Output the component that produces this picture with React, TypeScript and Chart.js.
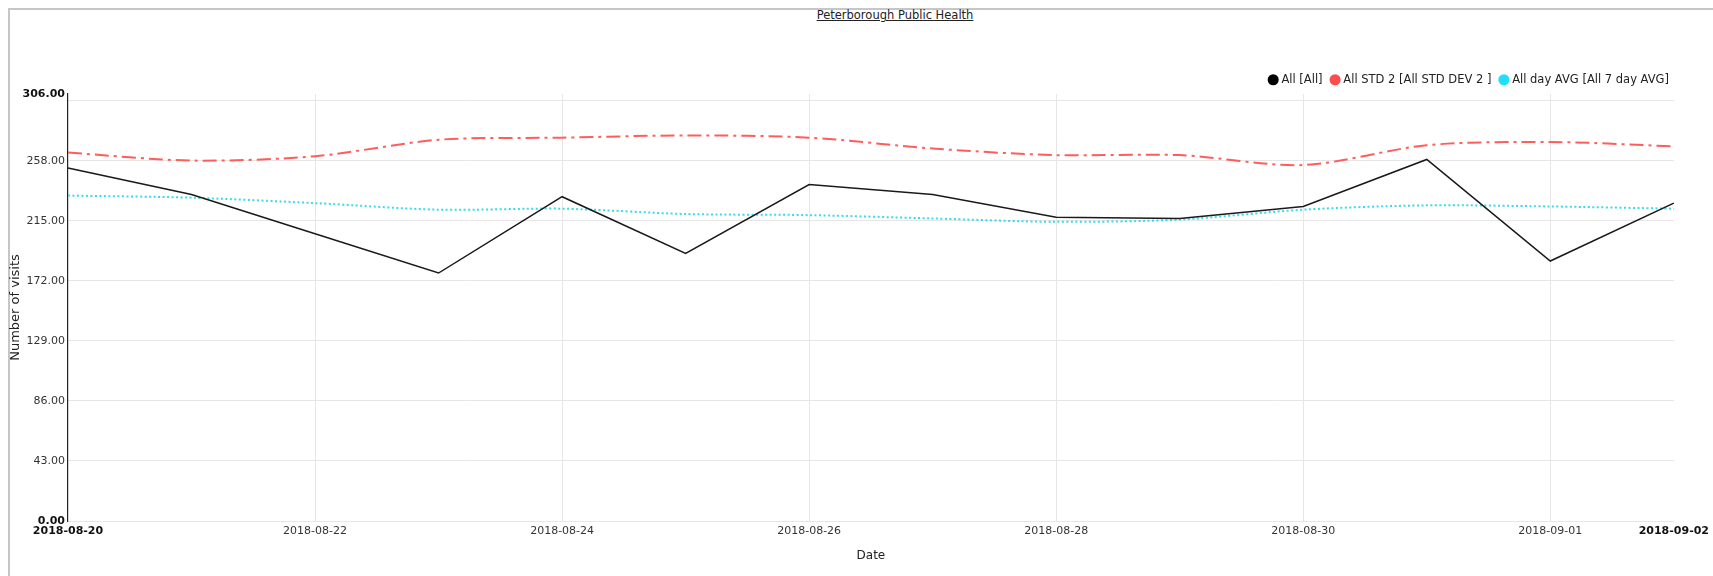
import React, { useEffect, useRef } from "react";
import { Chart, registerables } from "chart.js";

Chart.register(...registerables);

const dates = [
  "2018-08-20", "2018-08-21", "2018-08-22", "2018-08-23", "2018-08-24", "2018-08-25", "2018-08-26",
  "2018-08-27", "2018-08-28", "2018-08-29", "2018-08-30", "2018-08-31", "2018-09-01", "2018-09-02",
];
const allVisits = [252.9, 234.0, 205.8, 177.7, 232.4, 191.7, 241.1, 234.0, 217.6, 216.8, 225.4, 259.1, 186.3, 227.8];
const stdDev2 = [264.0, 258.3, 261.4, 273.2, 274.7, 276.3, 274.7, 266.9, 262.2, 262.2, 255.1, 269.3, 271.6, 268.5];
const sevenDayAvg = [233.2, 231.7, 227.8, 223.1, 223.8, 220.0, 219.2, 216.8, 214.4, 216.0, 223.1, 226.2, 225.4, 223.8];
const yTickValues = [0, 43, 86, 129, 172, 215, 258, 301, 306];
const yMax = 306;
const legendLabels = ["All [All]", "All STD 2 [All STD DEV 2 ]", "All day AVG [All 7 day AVG]"];
const legendColors = ["#000000", "#ff4b4b", "#1fdfff"];
const subtitle = "Peterborough Public Health";
const yTitle = "Number of visits";
const xTitle = "Date";

const FONT = "'DejaVu Sans', sans-serif";

const legendShift = {
  id: "legendShift",
  afterLayout(chart: any) {
    if (chart.legend) {
      chart.legend.top += 1.5;
      chart.legend.bottom += 1.5;
    }
  },
};

export default function App() {
  const canvasRef = useRef<HTMLCanvasElement | null>(null);

  useEffect(() => {
    const canvas = canvasRef.current;
    if (!canvas) return;
    const last = dates.length - 1;
    const chart = new Chart(canvas, {
      type: "line",
      plugins: [legendShift],
      data: {
        labels: dates,
        datasets: [
          {
            label: legendLabels[0],
            data: allVisits,
            borderColor: "#1a1a1a",
            backgroundColor: legendColors[0],
            borderWidth: 1.5,
            pointRadius: 0,
            tension: 0,
          },
          {
            label: legendLabels[1],
            data: stdDev2,
            borderColor: "#ff5c5c",
            backgroundColor: legendColors[1],
            borderWidth: 2,
            borderDash: [14, 5, 3, 5],
            pointRadius: 0,
            tension: 0.3,
          },
          {
            label: legendLabels[2],
            data: sevenDayAvg,
            borderColor: "#33dcee",
            backgroundColor: legendColors[2],
            borderWidth: 2,
            borderDash: [2, 2.5],
            pointRadius: 0,
            tension: 0.3,
          },
        ],
      },
      options: {
        animation: false,
        responsive: false,
        devicePixelRatio: 1,
        layout: { padding: { left: 9.5, right: 34, top: 62.5, bottom: 11.4 } },
        plugins: {
          title: { display: false },
          tooltip: { enabled: false },
          legend: {
            display: true,
            position: "top",
            align: "end",
            labels: {
              usePointStyle: true,
              boxWidth: 5,
              boxHeight: 7.8,
              padding: 10,
              color: "#222",
              font: { family: FONT, size: 11.5 },
              generateLabels: (c: any) =>
                c.data.datasets.map((ds: any, i: number) => ({
                  text: legendLabels[i],
                  fillStyle: legendColors[i],
                  strokeStyle: legendColors[i],
                  lineWidth: 0,
                  pointStyle: "circle",
                  hidden: false,
                  datasetIndex: i,
                  fontColor: "#222",
                })),
            },
          },
        },
        scales: {
          x: {
            type: "category",
            offset: false,
            grid: {
              drawTicks: false,
              color: (ctx: any) => {
                const i = ctx.index;
                return i > 0 && i < last && i % 2 === 0 ? "#e6e6e6" : "rgba(0,0,0,0)";
              },
              lineWidth: 1,
            },
            border: { display: true, color: "#e6e6e6", width: 1 },
            ticks: {
              autoSkip: false,
              maxRotation: 0,
              minRotation: 0,
              padding: 4,
              callback: (_v: any, idx: number) => (idx % 2 === 0 || idx === last ? dates[idx] : ""),
              color: (ctx: any) => (ctx.index === 0 || ctx.index === last ? "#111" : "#333"),
              font: (ctx: any) => ({
                family: FONT,
                size: 11,
                weight: ctx.index === 0 || ctx.index === last ? "bold" : "normal",
              }),
            },
            title: {
              display: true,
              text: xTitle,
              color: "#222",
              font: { family: FONT, size: 12 },
              padding: { top: 10, bottom: 2 },
            },
            afterFit: (axis: any) => {
              axis.height = 43.6;
            },
          },
          y: {
            type: "linear",
            min: 0,
            max: yMax,
            afterBuildTicks: (axis: any) => {
              axis.ticks = yTickValues.map((v) => ({ value: v }));
            },
            grid: {
              drawTicks: false,
              color: (ctx: any) => (ctx.tick && ctx.tick.value === yMax ? "rgba(0,0,0,0)" : "#e6e6e6"),
              lineWidth: 1,
            },
            border: { display: true, color: "#222", width: 1.2 },
            ticks: {
              padding: 3,
              callback: (v: any) => (v === 301 ? "" : Number(v).toFixed(2)),
              color: (ctx: any) => (ctx.tick && (ctx.tick.value === 0 || ctx.tick.value === yMax) ? "#111" : "#333"),
              font: (ctx: any) => ({
                family: FONT,
                size: 11,
                weight: ctx.tick && (ctx.tick.value === 0 || ctx.tick.value === yMax) ? "bold" : "normal",
              }),
            },
            title: {
              display: true,
              text: yTitle,
              color: "#222",
              font: { family: FONT, size: 13, lineHeight: 1 },
              padding: { top: 0, bottom: 0 },
            },
            afterFit: (axis: any) => {
              axis.width = 58.5;
            },
          },
        },
      },
    });
    return () => chart.destroy();
  }, []);

  return (
    <div
      style={{
        position: "fixed",
        left: 0,
        top: 0,
        width: 1713,
        height: 576,
        overflow: "hidden",
        background: "#fff",
      }}
    >
      <div
        style={{
          position: "absolute",
          left: 8,
          top: 8,
          width: 1800,
          height: 700,
          borderTop: "2px solid #c6c6c6",
          borderLeft: "2px solid #c6c6c6",
        }}
      />
      <div
        style={{
          position: "absolute",
          left: 0,
          top: 9,
          width: 1790,
          textAlign: "center",
          fontFamily: FONT,
          fontSize: "11.5px",
          lineHeight: "13px",
          color: "#222",
        }}
      >
        <span style={{ textDecoration: "underline" }}>{subtitle}</span>
      </div>
      <canvas
        ref={canvasRef}
        width={1713}
        height={576}
        style={{ position: "absolute", left: 0, top: 0, width: 1713, height: 576 }}
      />
    </div>
  );
}
